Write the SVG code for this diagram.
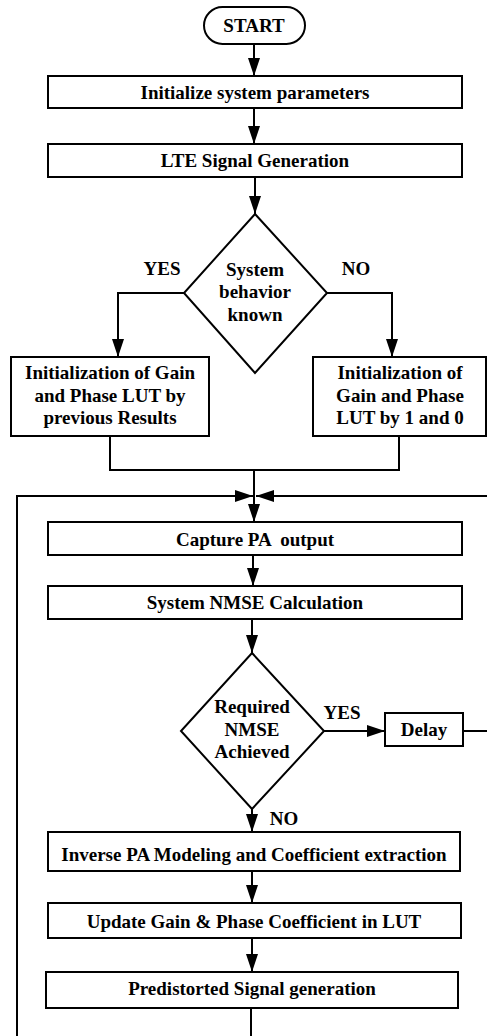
<svg xmlns="http://www.w3.org/2000/svg" width="487" height="1036" viewBox="0 0 487 1036">
<style>
.box{fill:#fff;stroke:#000;stroke-width:2}
.ln{fill:none;stroke:#000;stroke-width:2}
.t{font-family:"Liberation Serif","Times New Roman",serif;font-weight:bold;font-size:19px;fill:#000;text-anchor:middle}
</style>
<defs>
<marker id="ah" markerUnits="userSpaceOnUse" markerWidth="18" markerHeight="12" refX="18" refY="6" orient="auto">
<path d="M0,0 L18,6 L0,12 z" fill="#000"/>
</marker>
</defs>
<rect width="487" height="1036" fill="#fff"/>
<g id="connectors">
<line class="ln" x1="254" y1="44" x2="254" y2="76" marker-end="url(#ah)"/>
<line class="ln" x1="254" y1="108" x2="254" y2="144" marker-end="url(#ah)"/>
<line class="ln" x1="255" y1="177" x2="255" y2="214" marker-end="url(#ah)"/>
<polyline class="ln" points="184,293 118,293 118,357" marker-end="url(#ah)"/>
<polyline class="ln" points="327,293 392,293 392,357" marker-end="url(#ah)"/>
<polyline class="ln" points="110,436 110,470 399,470 399,436"/>
<line class="ln" x1="254" y1="470" x2="254" y2="522" marker-end="url(#ah)"/>
<line class="ln" x1="17" y1="1036" x2="17" y2="496"/>
<line class="ln" x1="16" y1="496" x2="253" y2="496" marker-end="url(#ah)"/>
<line class="ln" x1="487" y1="496" x2="256" y2="496" marker-end="url(#ah)"/>
<line class="ln" x1="253" y1="555" x2="253" y2="586" marker-end="url(#ah)"/>
<line class="ln" x1="252" y1="619" x2="252" y2="653" marker-end="url(#ah)"/>
<line class="ln" x1="324" y1="731" x2="385" y2="731" marker-end="url(#ah)"/>
<line class="ln" x1="463" y1="731" x2="487" y2="731"/>
<line class="ln" x1="252" y1="809" x2="252" y2="832" marker-end="url(#ah)"/>
<line class="ln" x1="252" y1="871" x2="252" y2="903" marker-end="url(#ah)"/>
<line class="ln" x1="252" y1="938" x2="252" y2="972" marker-end="url(#ah)"/>
<line class="ln" x1="251" y1="1008" x2="251" y2="1036"/>
</g>
<g id="start">
<rect class="box" x="204" y="7" width="101" height="37" rx="18.5"/>
<text class="t" x="254" y="32">START</text>
</g>
<g id="init-params">
<rect class="box" x="48" y="76" width="414" height="32"/>
<text class="t" x="255" y="99">Initialize system parameters</text>
</g>
<g id="lte-gen">
<rect class="box" x="48" y="144" width="414" height="33"/>
<text class="t" x="255" y="167">LTE Signal Generation</text>
</g>
<g id="decision-known">
<polygon class="box" points="255,214 327,293 255,373 184,293"/>
<text class="t" x="255" y="276">System</text>
<text class="t" x="255" y="298">behavior</text>
<text class="t" x="255" y="321">known</text>
</g>
<text class="t" x="162" y="275">YES</text>
<text class="t" x="356" y="275">NO</text>
<g id="init-prev">
<rect class="box" x="11" y="357" width="198" height="79"/>
<text class="t" x="110" y="379">Initialization of Gain</text>
<text class="t" x="110" y="402">and Phase LUT by</text>
<text class="t" x="110" y="424">previous Results</text>
</g>
<g id="init-10">
<rect class="box" x="313" y="357" width="173" height="79"/>
<text class="t" x="400" y="379">Initialization of</text>
<text class="t" x="400" y="402">Gain and Phase</text>
<text class="t" x="400" y="424">LUT by 1 and 0</text>
</g>
<g id="capture">
<rect class="box" x="48" y="522" width="414" height="33"/>
<text class="t" x="255" y="546" xml:space="preserve">Capture PA  output</text>
</g>
<g id="nmse-calc">
<rect class="box" x="48" y="586" width="414" height="33"/>
<text class="t" x="255" y="609">System NMSE Calculation</text>
</g>
<g id="decision-nmse">
<polygon class="box" points="252,653 324,731 252,809 181,731"/>
<text class="t" x="252" y="713">Required</text>
<text class="t" x="252" y="736">NMSE</text>
<text class="t" x="252" y="758">Achieved</text>
</g>
<text class="t" x="342" y="719">YES</text>
<text class="t" x="284" y="825">NO</text>
<g id="delay">
<rect class="box" x="385" y="713" width="78" height="33"/>
<text class="t" x="424" y="736">Delay</text>
</g>
<g id="inverse">
<rect class="box" x="48" y="832" width="412" height="39"/>
<text class="t" x="254" y="861">Inverse PA Modeling and Coefficient extraction</text>
</g>
<g id="update">
<rect class="box" x="48" y="903" width="413" height="35"/>
<text class="t" x="254" y="928">Update Gain &amp; Phase Coefficient in LUT</text>
</g>
<g id="predistort">
<rect class="box" x="46" y="972" width="412" height="36"/>
<text class="t" x="252" y="995">Predistorted Signal generation</text>
</g>
</svg>
